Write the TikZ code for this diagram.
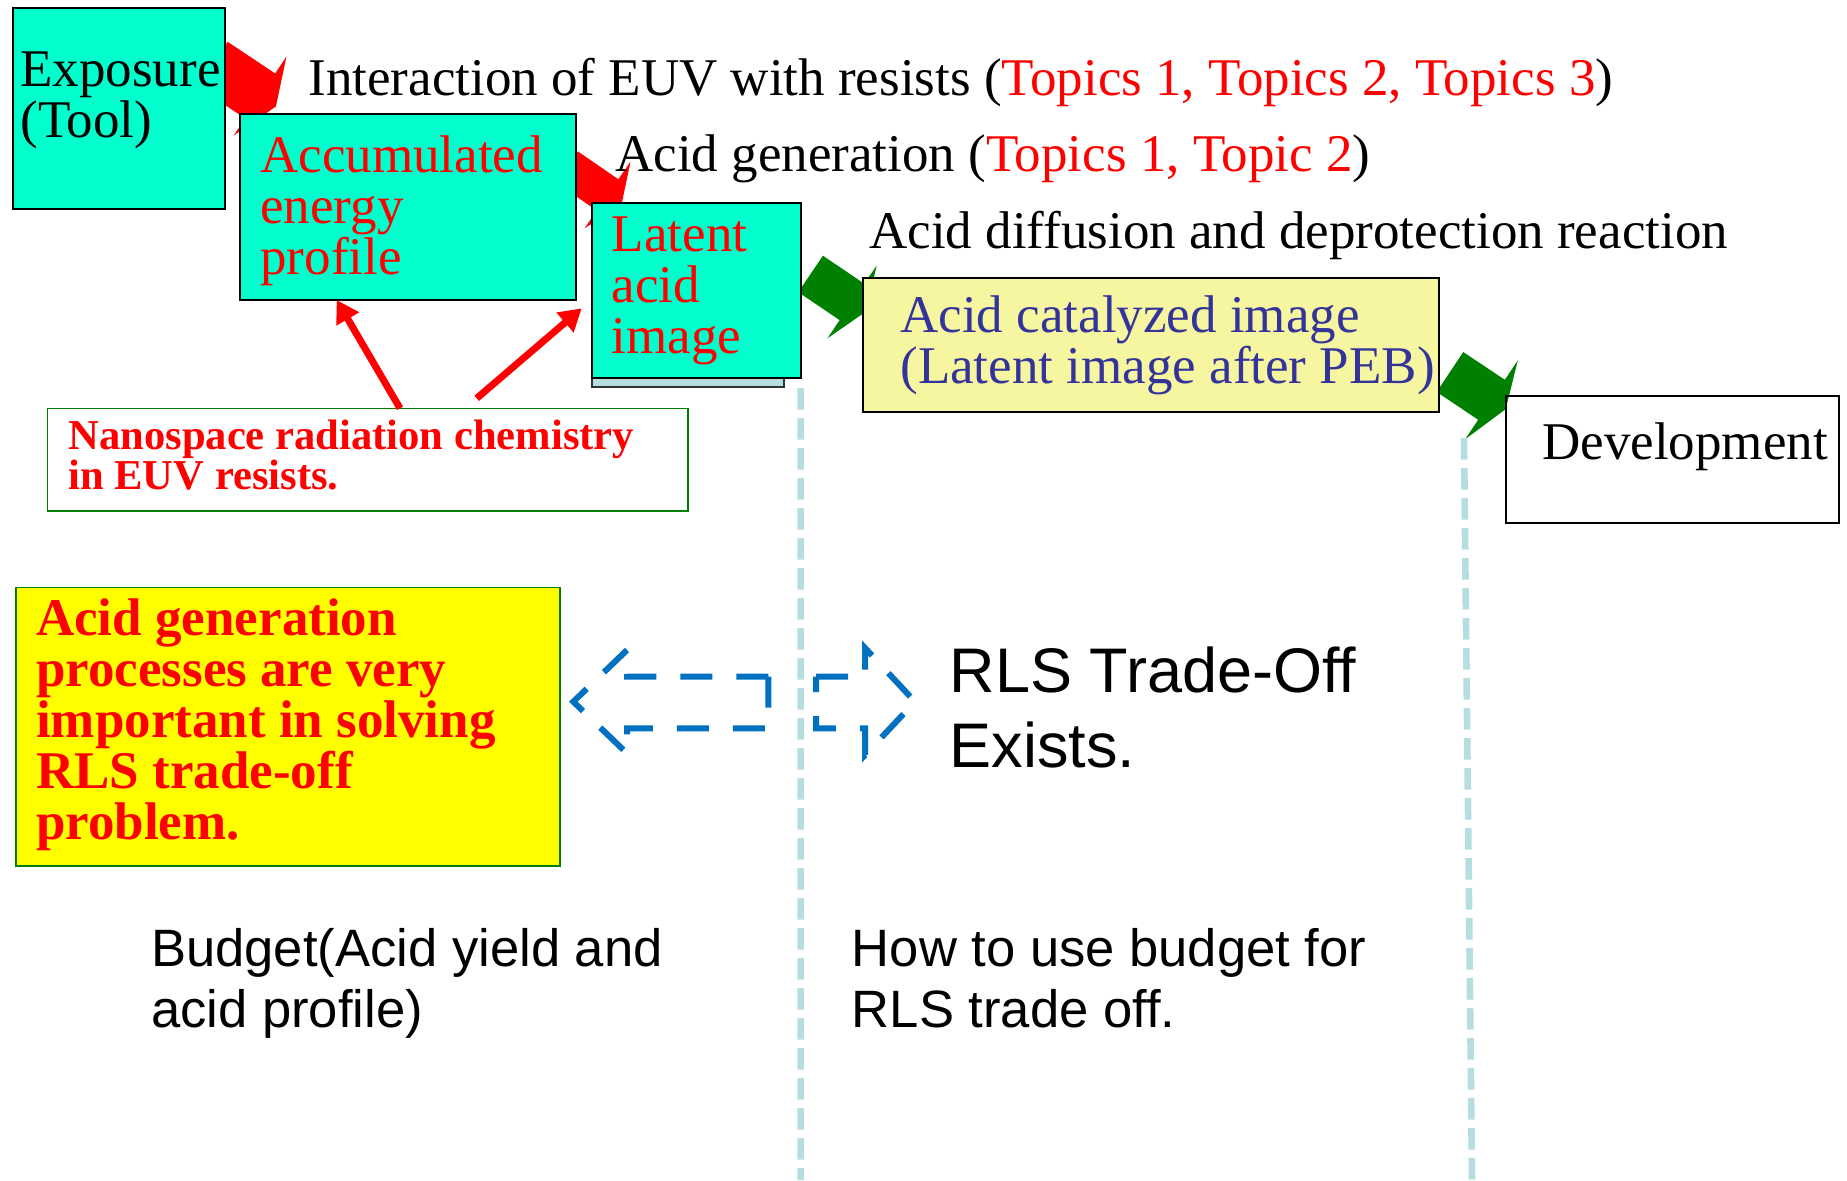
\documentclass[tikz,border=0pt]{standalone}
\usepackage{fontspec}
\setmainfont{Liberation Serif}
\setsansfont{Liberation Sans}
\usetikzlibrary{arrows.meta,calc,backgrounds}
\definecolor{boxcyan}{RGB}{0,255,204}
\definecolor{paleyellow}{RGB}{246,246,160}
\definecolor{navytext}{RGB}{51,51,153}
\definecolor{flowgreen}{RGB}{0,128,0}
\definecolor{paleblue}{RGB}{182,221,224}
\definecolor{euvblue}{RGB}{0,112,192}
\definecolor{notebg}{RGB}{255,255,0}
\tikzset{
  pics/blockarrow/.style n args={5}{code={
    \fill[#5] (0,-#2/2) -- (#1,-#2/2) -- (#1,-#3/2) -- (#1+#4,0) -- (#1,#3/2) -- (#1,#2/2) -- (0,#2/2) -- cycle;
  }}
}
\begin{document}
\begin{tikzpicture}[x=0.5pt, y=-0.5pt,
    box/.style={draw, line width=1pt, anchor=north west, inner sep=0pt, outer sep=0pt},
    tx/.style={anchor=base west, inner sep=0pt, font=\fontsize{26.5}{25.5}\selectfont},
    sx/.style={anchor=base west, inner sep=0pt, font=\sffamily\fontsize{26.3}{30.6}\selectfont},
    pointer/.style={draw=red, line width=3.5pt, -{Triangle[length=11pt, width=12.5pt]}},
    divider/.style={draw=paleblue, line width=3.3pt, dash pattern=on 10.8pt off 4.2pt},
    tradeoff/.style={draw=euvblue, line width=3pt, dash pattern=on 16pt off 12pt}]
    \useasboundingbox (0,0) rectangle (1847,1180);
    \node[box, fill=boxcyan, minimum width=106pt, minimum height=100.7pt] (expo) at (12.5,7.6) {};
    \node[box, fill=boxcyan, minimum width=168pt, minimum height=93pt] (acc) at (240,114) {};
    \node[box, draw=black!80, fill=paleblue, minimum width=96.25pt, minimum height=86pt] (latentbk) at (591.5,215) {};
    \node[box, fill=boxcyan, minimum width=104.55pt, minimum height=87.5pt] (latent) at (591.5,203) {};
    \node[box, fill=paleyellow, minimum width=288pt, minimum height=67pt] (cat) at (863,278) {};
    \node[box, minimum width=166.5pt, minimum height=63.5pt] (dev) at (1505.6,395.7) {};
    \node[box, draw=flowgreen, line width=0.8pt, minimum width=320.25pt, minimum height=51.2pt] (nano) at (47.3,408.3) {};
    \node[box, draw=flowgreen, line width=0.8pt, fill=notebg, minimum width=272pt, minimum height=139.2pt] (imp) at (16,587.3) {};
    \begin{pgfonlayer}{background}
        \pic[rotate=-33.7] at ($(expo.north east)+(-11.8,56.7)$) {blockarrow={57}{54}{95}{19}{red}};
        \pic[rotate=-34.6] at ($(acc.north east)+(-8.8,53.1)$) {blockarrow={49}{38}{81}{17}{red}};
        \pic[rotate=-34.1] at ($(latent.north east)+(10,70.9)$) {blockarrow={50}{44}{88}{17}{flowgreen}};
        \pic[rotate=-33.7] at ($(cat.north east)+(10.9,94)$) {blockarrow={50}{48}{95}{17}{flowgreen}};
    \end{pgfonlayer}
    \node[tx] (expotxt) at (20,86) {\vtop{\hbox{Exposure}\hbox{(Tool)}}};
    \node[tx, text=red] (acctxt) at (260,172) {\vtop{\hbox{Accumulated}\hbox{energy}\hbox{profile}}};
    \node[tx, text=red] (latenttxt) at (611.5,251) {\vtop{\hbox{Latent}\hbox{acid}\hbox{image}}};
    \node[tx] (interact) at (308,95) {Interaction of EUV with resists (\textcolor{red}{Topics 1, Topics 2, Topics 3})};
    \node[tx] (acidgen) at (615,171.7) {Acid generation (\textcolor{red}{Topics 1, Topic 2})};
    \node[tx] (diffuse) at (869,248) {Acid diffusion and deprotection reaction};
    \node[tx, text=navytext] (cattxt) at (900,332) {\vtop{\hbox{Acid catalyzed image}\hbox{(Latent image after PEB)}}};
    \node[tx] (devtxt) at (1542,459) {Development};
    \node[tx, text=red, font=\fontsize{21.3}{20}\selectfont\bfseries] (nanotxt) at (68,449.3)
        {\vtop{\hbox{Nanospace radiation chemistry}\hbox{in EUV resists.}}};
    \node[tx, text=red, font=\fontsize{26.5}{25.6}\selectfont\bfseries] (imptxt) at (35.8,635)
        {\vtop{\hbox{Acid generation}\hbox{processes are very}\hbox{important in solving}\hbox{RLS trade-off}\hbox{problem.}}};
    \node[sx, font=\sffamily\fontsize{31.5}{37.2}\selectfont] (rls) at (949.5,692.7) {\vtop{\hbox{RLS Trade-Off}\hbox{Exists.}}};
    \node[sx] (budget) at (150.7,966.7) {\vtop{\hbox{Budget(Acid yield and}\hbox{acid profile)}}};
    \node[sx] (howto) at (851.4,966.7) {\vtop{\hbox{How to use budget for}\hbox{RLS trade off.}}};
    \draw[pointer] ($(nano.north west)+(352.7,0)$) -- ($(acc.south west)+(96.7,0)$);
    \draw[pointer] ($(nano.north west)+(429.4,-10)$) -- ($(latent.south west)+(-9.8,-69.7)$);
    \coordinate (foot1) at (800.6,1180);
    \coordinate (foot2) at (1472,1180);
    \draw[divider] ($(latent.south east)+(0,10)$) -- (foot1);
    \draw[divider] ($(cat.south east)+(25,26)$) -- (foot2);
    \draw[tradeoff] (768.3,676.7) -- (627,676.7) -- (627,650) -- (573.3,701.7) -- (627,753.3) -- (627,728.3) -- (768.3,728.3) -- cycle;
    \draw[tradeoff] (816,676.7) -- (865,676.7) -- (865,648) -- (915,701.7) -- (865,755) -- (865,728.3) -- (816,728.3) -- cycle;
\end{tikzpicture}
\end{document}
